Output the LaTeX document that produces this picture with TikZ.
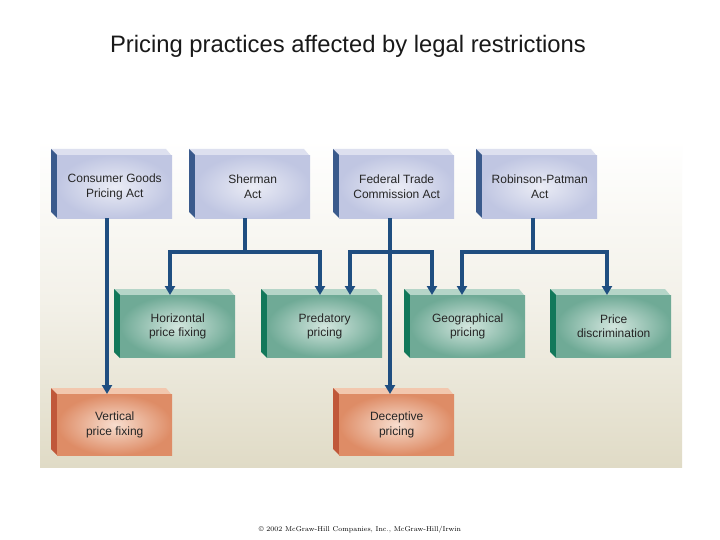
\documentclass[tikz,border=0pt]{standalone}
\usepackage{fontspec}
\setmainfont{Liberation Sans}
\usetikzlibrary{arrows.meta}
\definecolor{lnk}{HTML}{1F4E80}
\definecolor{bfill}{HTML}{C0C6E2}\definecolor{bedge}{HTML}{3A5A8C}\definecolor{btop}{HTML}{DDE0EF}
\definecolor{gfill}{HTML}{6FAA96}\definecolor{gedge}{HTML}{12785A}\definecolor{gtop}{HTML}{B5D5C8}
\definecolor{ofill}{HTML}{DE8C66}\definecolor{oedge}{HTML}{C0583A}\definecolor{otop}{HTML}{F2C7AE}
\definecolor{beige}{HTML}{E0DBC6}
\tikzset{
 box/.style={minimum width=115pt,minimum height=63pt,inner sep=0pt,align=center,font=\fontsize{12}{14.5}\selectfont,text=black!85},
 bluebox/.style={box,inner color=btop!60!white,outer color=bfill},
 greenbox/.style={box,inner color=gtop!60!white,outer color=gfill},
 orbox/.style={box,inner color=otop!60!white,outer color=ofill},
 conn/.style={draw=lnk,line width=3.2pt},
 arr/.style={conn,-{Triangle[length=9pt,width=10pt]}}
}
\begin{document}
\begin{tikzpicture}[x=1pt,y=-1pt]
\useasboundingbox (0,0) rectangle (720,540);
\fill[white] (0,0) rectangle (720,540);
\shade[top color=white,bottom color=beige,middle color=beige!40!white] (40,140) rectangle (682,467);
\node[font=\fontsize{23.8}{28}\selectfont,text=black!90] (title) at (348,46) {Pricing practices affected by legal restrictions};
\foreach \n/\x/\t in {cg/51/{Consumer Goods\\Pricing Act},sh/189/{Sherman\\Act},ftc/333/{Federal Trade\\Commission Act},rp/476/{Robinson-Patman\\Act}}{
 \fill[btop] (\x,149) -- (\x+115,149) -- (\x+120,155) -- (\x+6,155) -- cycle;
 \fill[bedge] (\x,149) -- (\x+6,155) -- (\x+6,218) -- (\x,212) -- cycle;
 \node[bluebox,anchor=north west] (\n) at (\x+6,155) {\t};
}
\foreach \n/\x/\t in {hpf/114/{Horizontal\\price fixing},pp/261/{Predatory\\pricing},gp/404/{Geographical\\pricing},pd/550/{Price\\discrimination}}{
 \fill[gtop] (\x,289) -- (\x+115,289) -- (\x+120,295) -- (\x+6,295) -- cycle;
 \fill[gedge] (\x,289) -- (\x+6,295) -- (\x+6,358) -- (\x,352) -- cycle;
 \node[greenbox,anchor=north west,minimum height=62pt] (\n) at (\x+6,295) {\t};
}
\foreach \n/\x/\t in {vpf/51/{Vertical\\price fixing},dp/333/{Deceptive\\pricing}}{
 \fill[otop] (\x,388) -- (\x+115,388) -- (\x+120,394) -- (\x+6,394) -- cycle;
 \fill[oedge] (\x,388) -- (\x+6,394) -- (\x+6,455) -- (\x,449) -- cycle;
 \node[orbox,anchor=north west,minimum height=61pt] (\n) at (\x+6,394) {\t};
}
\coordinate (shj) at (245,252);
\coordinate (ftj) at (390,252);
\coordinate (rpj) at (533,252);
\draw[arr] (cg.south -| 107,0) -- (vpf.north -| 107,0);
\draw[conn] (sh.south -| shj) -- (shj);
\draw[arr] (shj) -| (hpf.north -| 170,0);
\draw[arr] (shj) -| (pp.north -| 320,0);
\draw[arr] (ftc.south -| ftj) -- (dp.north -| ftj);
\draw[arr] (ftj) -| (pp.north -| 350,0);
\draw[arr] (ftj) -| (gp.north -| 432,0);
\draw[conn] (rp.south -| rpj) -- (rpj);
\draw[arr] (rpj) -| (gp.north -| 462,0);
\draw[arr] (rpj) -| (pd.north -| 607,0);
\node[font=\fontfamily{lmr}\fontsize{7}{8}\selectfont] (copy) at (360,530) {\textcopyright{} 2002 McGraw-Hill Companies, Inc., McGraw-Hill/Irwin};
\end{tikzpicture}
\end{document}
